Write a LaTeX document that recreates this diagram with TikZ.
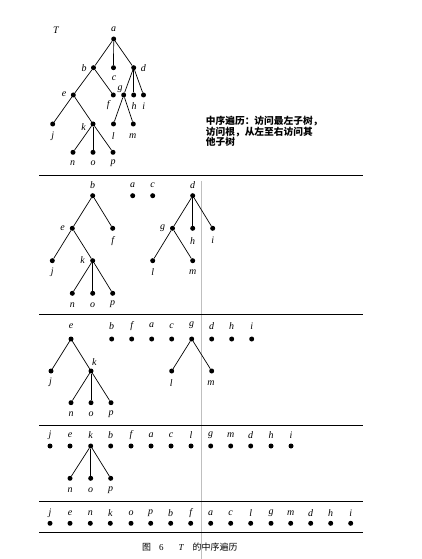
\documentclass[tikz,border=0pt]{standalone}
\usepackage{fontspec}
\setmainfont{Liberation Serif}
\newfontfamily\cjk{Noto Sans CJK SC}
\begin{document}
\begin{tikzpicture}[x=1bp,y=-1bp,
  dot/.style={circle,fill=black,inner sep=0pt,minimum size=5bp},
  lab/.style={inner sep=0pt,font=\fontsize{10}{11}\selectfont\itshape},
  edge/.style={line width=0.7bp},
  rule/.style={line width=0.9bp},
  fold/.style={line width=0.5bp,black!25}]
\useasboundingbox (0,0) rectangle (421,559);

% ---------- fold line (scan) ----------
\coordinate (fA) at (201.7,181);
\coordinate (fB) at (201.7,559);
\draw[fold] (fA) -- (fB);

% ---------- separators ----------
\foreach \i/\yy in {1/175,2/314,3/425,4/501,5/532}{
  \coordinate (rL\i) at (39,\yy);
  \coordinate (rR\i) at (363,\yy);
  \draw[rule] (rL\i) -- (rR\i);
}

% ---------- panel 1 : tree T ----------
\node[lab] (T) at (56,30.7) {T};
\node[dot] (a1) at (113.7,39) {};
\node[dot] (b1) at (93.5,67.7) {};
\node[dot] (c1) at (113.5,67.7) {};
\node[dot] (d1) at (133.7,67.7) {};
\node[dot] (e1) at (73.3,95) {};
\node[dot] (f1) at (113.3,95) {};
\node[dot] (g1) at (123.7,95) {};
\node[dot] (h1) at (133.7,95) {};
\node[dot] (i1) at (143.5,95) {};
\node[dot] (j1) at (52.7,124) {};
\node[dot] (k1) at (93,124) {};
\node[dot] (l1) at (113.5,124) {};
\node[dot] (m1) at (133.3,124) {};
\node[dot] (n1) at (73,152.3) {};
\node[dot] (o1) at (93,152.3) {};
\node[dot] (p1) at (113,152.3) {};
\foreach \u/\v in {a1/b1,a1/c1,a1/d1,b1/e1,b1/f1,d1/g1,d1/h1,d1/i1,e1/j1,e1/k1,g1/l1,g1/m1,k1/n1,k1/o1,k1/p1}
  \draw[edge] (\u) -- (\v);
\node[lab] (la1) at (113.7,29.3) {a};
\node[lab] (lb1) at (84,68) {b};
\node[lab] (lc1) at (114,78) {c};
\node[lab] (ld1) at (143.3,68) {d};
\node[lab] (le1) at (64,94.5) {e};
\node[lab] (lf1) at (108.3,105) {f};
\node[lab] (lg1) at (120,89.5) {g};
\node[lab] (lh1) at (134,106.5) {h};
\node[lab] (li1) at (143.7,106.5) {i};
\node[lab] (lj1) at (52.7,136) {j};
\node[lab] (lk1) at (83.5,127) {k};
\node[lab] (ll1) at (113.3,136) {l};
\node[lab] (lm1) at (132.7,136) {m};
\node[lab] (ln1) at (72.7,163) {n};
\node[lab] (lo1) at (93,163) {o};
\node[lab] (lp1) at (113,163) {p};

\node[anchor=north west,inner sep=0pt,align=left,
      font=\cjk\bfseries\fontsize{9.75}{10.5}\selectfont] (txt) at (205.7,116)
  {中序遍历：访问最左子树，\\访问根，从左至右访问其\\他子树};

% ---------- panel 2 ----------
\node[dot] (b2) at (92.7,195.7) {};
\node[dot] (a2) at (132.7,195.7) {};
\node[dot] (c2) at (152.7,195.7) {};
\node[dot] (d2) at (192.7,195.7) {};
\node[dot] (e2) at (72.3,228.3) {};
\node[dot] (f2) at (112.7,228.3) {};
\node[dot] (g2) at (172.5,228.3) {};
\node[dot] (h2) at (192.7,228.3) {};
\node[dot] (i2) at (212.7,228.3) {};
\node[dot] (j2) at (52.3,260.7) {};
\node[dot] (k2) at (92.7,260.7) {};
\node[dot] (l2) at (152.7,260.7) {};
\node[dot] (m2) at (192.7,260.7) {};
\node[dot] (n2) at (72.3,293.3) {};
\node[dot] (o2) at (92.7,293.3) {};
\node[dot] (p2) at (112.7,293.3) {};
\foreach \u/\v in {b2/e2,b2/f2,e2/j2,e2/k2,k2/n2,k2/o2,k2/p2,d2/g2,d2/h2,d2/i2,g2/l2,g2/m2}
  \draw[edge] (\u) -- (\v);
\node[lab] (lb2) at (92.7,185) {b};
\node[lab] (la2) at (132.7,185) {a};
\node[lab] (lc2) at (152.7,185) {c};
\node[lab] (ld2) at (192.7,185) {d};
\node[lab] (le2) at (62.5,228) {e};
\node[lab] (lf2) at (112.7,240.7) {f};
\node[lab] (lg2) at (162.7,228) {g};
\node[lab] (lh2) at (192.7,240.7) {h};
\node[lab] (li2) at (212.7,240.7) {i};
\node[lab] (lj2) at (52.3,272.3) {j};
\node[lab] (lk2) at (82.7,260) {k};
\node[lab] (ll2) at (152.7,272.3) {l};
\node[lab] (lm2) at (192.7,272.3) {m};
\node[lab] (ln2) at (72.3,304.7) {n};
\node[lab] (lo2) at (92.7,304.7) {o};
\node[lab] (lp2) at (112.7,304.7) {p};

% ---------- panel 3 ----------
\foreach \n/\xx in {e/71,b/111.7,f/131.7,a/151.7,c/171.7,g/191.7,d/211.7,h/231.7,i/251.7}{
  \node[dot] (\n3) at (\xx,339) {};
  \node[lab] (l\n3) at (\xx,325.7) {\n};
}
\node[dot] (j3) at (51,371) {};
\node[dot] (k3) at (91,371) {};
\node[dot] (l3) at (171.7,371) {};
\node[dot] (m3) at (211.7,371) {};
\node[dot] (n3) at (71,402.7) {};
\node[dot] (o3) at (91,402.7) {};
\node[dot] (p3) at (111,402.7) {};
\foreach \u/\v in {e3/j3,e3/k3,k3/n3,k3/o3,k3/p3,g3/l3,g3/m3}
  \draw[edge] (\u) -- (\v);
\node[lab] (lk3) at (94.3,362) {k};
\node[lab] (lj3) at (50.5,382.7) {j};
\node[lab] (ll3) at (171.2,382.7) {l};
\node[lab] (lm3) at (211,382.7) {m};
\node[lab] (ln3) at (71,414) {n};
\node[lab] (lo3) at (91,414) {o};
\node[lab] (lp3) at (111,414) {p};

% ---------- panel 4 ----------
\foreach \n/\xx in {j/50,e/70,k/90.7,b/110.7,f/131,a/151,c/171,l/191,g/210.7,m/230.7,d/250.7,h/271,i/291}{
  \node[dot] (\n4) at (\xx,446) {};
  \node[lab] (l\n4) at (\xx,435) {\n};
}
\foreach \n/\xx in {n/70,o/90.7,p/110.7}{
  \node[dot] (\n4) at (\xx,478.3) {};
  \node[lab] (l\n4) at (\xx,490) {\n};
  \draw[edge] (k4) -- (\n4);
}

% ---------- panel 5 ----------
\foreach \n/\xx in {j/50,e/70,n/90.3,k/110.3,o/131,p/150.7,b/170.7,f/190.7,a/210.7,c/230.7,l/250.7,g/271,m/290.7,d/310.7,h/330.7,i/350.7}{
  \node[dot] (\n5) at (\xx,523.3) {};
  \node[lab] (l\n5) at (\xx,513.5) {\n};
}

% ---------- caption ----------
\node[anchor=west,inner sep=0pt,font=\cjk\fontsize{9}{10}\selectfont] (cap) at (142,546.7)
  {图\hspace{8bp}{\rmfamily 6}\hspace{15bp}{\rmfamily\itshape T}\hspace{9bp}的中序遍历};
\end{tikzpicture}
\end{document}
